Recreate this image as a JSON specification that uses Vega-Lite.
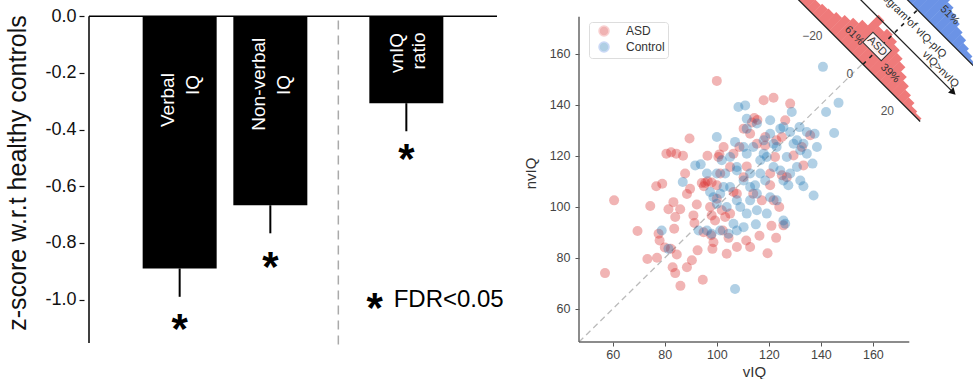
{
  "$schema": "https://vega.github.io/schema/vega-lite/v6.json",
  "padding": {"left": 5, "top": 0, "right": 0, "bottom": 0},
  "background": "white",
  "spacing": 77,
  "bounds": "flush",
  "config": {"font": "Liberation Sans", "view": {"stroke": null}, "axis": {"grid": false}},
  "datasets": {
    "bars": [
      {"m": "Verbal IQ", "pos": 1, "z": -0.89, "lo": -0.99},
      {"m": "Non-verbal IQ", "pos": 2, "z": -0.667, "lo": -0.766},
      {"m": "vnIQ ratio", "pos": 3.5, "z": -0.307, "lo": -0.406}
    ],
    "stars": [
      {"pos": 1, "y": -1.07},
      {"pos": 2, "y": -0.85},
      {"pos": 3.5, "y": -0.47},
      {"pos": 3.15, "y": -0.995}
    ],
    "barlabels": [
      {"txt": "Verbal", "pos": 0.87, "y": -0.296},
      {"txt": "IQ", "pos": 1.15, "y": -0.243},
      {"txt": "Non-verbal", "pos": 1.88, "y": -0.24},
      {"txt": "IQ", "pos": 2.15, "y": -0.243},
      {"txt": "vnIQ", "pos": 3.4, "y": -0.13},
      {"txt": "ratio", "pos": 3.64, "y": -0.123}
    ],
    "fdr": [{"txt": "FDR<0.05", "pos": 3.36, "y": -1.0}],
    "pts": [
      {"g":"ASD","v":57,"nv":74},{"g":"ASD","v":60.5,"nv":102.5},{"g":"ASD","v":69.5,"nv":90.5},{"g":"ASD","v":73.3,"nv":79.5},
      {"g":"ASD","v":74.4,"nv":100.3},{"g":"ASD","v":76.7,"nv":108},{"g":"ASD","v":79,"nv":109},{"g":"ASD","v":77.6,"nv":89.4},
      {"g":"ASD","v":78,"nv":86.8},{"g":"ASD","v":77,"nv":80},{"g":"ASD","v":80,"nv":84},{"g":"ASD","v":80.6,"nv":120.8},
      {"g":"ASD","v":82.4,"nv":121.3},{"g":"ASD","v":84.4,"nv":120.8},{"g":"ASD","v":87,"nv":120},{"g":"ASD","v":81.4,"nv":99},
      {"g":"ASD","v":83.3,"nv":101.8},{"g":"ASD","v":85.9,"nv":99},{"g":"ASD","v":84,"nv":96},{"g":"ASD","v":83.6,"nv":91.4},
      {"g":"ASD","v":87.8,"nv":113},{"g":"ASD","v":88.5,"nv":105},{"g":"ASD","v":89.5,"nv":126.7},{"g":"ASD","v":91,"nv":96.6},
      {"g":"ASD","v":91.4,"nv":93.6},{"g":"ASD","v":83,"nv":76.3},{"g":"ASD","v":84,"nv":74},{"g":"ASD","v":86,"nv":69},
      {"g":"ASD","v":88.5,"nv":76.3},{"g":"ASD","v":90.4,"nv":79},{"g":"ASD","v":84.6,"nv":81.3},{"g":"ASD","v":82.3,"nv":83.5},
      {"g":"ASD","v":92.6,"nv":82.9},{"g":"ASD","v":94.6,"nv":71.4},{"g":"ASD","v":89.7,"nv":107},{"g":"ASD","v":92.3,"nv":100.9},
      {"g":"ASD","v":94.2,"nv":109.3},{"g":"ASD","v":95.5,"nv":109.3},{"g":"ASD","v":96.4,"nv":120},{"g":"ASD","v":100,"nv":149.3},
      {"g":"ASD","v":97.8,"nv":88.8},{"g":"ASD","v":98.7,"nv":86.1},{"g":"ASD","v":98.3,"nv":83.5},{"g":"ASD","v":99.3,"nv":94.6},
      {"g":"ASD","v":100.6,"nv":119.5},{"g":"ASD","v":100,"nv":108.4},{"g":"ASD","v":101.3,"nv":113},{"g":"ASD","v":103.2,"nv":96},
      {"g":"ASD","v":103.8,"nv":81.6},{"g":"ASD","v":104.5,"nv":87.8},{"g":"ASD","v":102.3,"nv":90.7},{"g":"ASD","v":107.7,"nv":84.2},
      {"g":"ASD","v":108.7,"nv":123.4},{"g":"ASD","v":106.4,"nv":105.8},{"g":"ASD","v":110.3,"nv":130.6},{"g":"ASD","v":111.3,"nv":86.8},
      {"g":"ASD","v":112.8,"nv":84.2},{"g":"ASD","v":111.5,"nv":115.8},{"g":"ASD","v":114.4,"nv":134.8},{"g":"ASD","v":115.6,"nv":134},
      {"g":"ASD","v":116.4,"nv":88.6},{"g":"ASD","v":118,"nv":141.7},{"g":"ASD","v":119.5,"nv":81.8},{"g":"ASD","v":121.8,"nv":142.7},
      {"g":"ASD","v":121,"nv":92.5},{"g":"ASD","v":122.8,"nv":87.8},{"g":"ASD","v":120.5,"nv":108.4},{"g":"ASD","v":118.6,"nv":127.3},
      {"g":"ASD","v":122.9,"nv":126},{"g":"ASD","v":124,"nv":99.9},{"g":"ASD","v":125.6,"nv":92.7},{"g":"ASD","v":126.3,"nv":133.9},
      {"g":"ASD","v":128.2,"nv":140.4},{"g":"ASD","v":126.9,"nv":111.6},{"g":"ASD","v":129.5,"nv":120.1},{"g":"ASD","v":122.4,"nv":119.5},
      {"g":"ASD","v":125,"nv":112.3},{"g":"ASD","v":132.7,"nv":123.4},{"g":"ASD","v":133.3,"nv":116.2},{"g":"ASD","v":135.9,"nv":128},
      {"g":"ASD","v":118.6,"nv":124},{"g":"ASD","v":115.4,"nv":124.7},{"g":"ASD","v":112.8,"nv":128.6},{"g":"ASD","v":106.4,"nv":120.8},
      {"g":"ASD","v":105.1,"nv":115.6},{"g":"ASD","v":102.6,"nv":123.4},{"g":"ASD","v":97.4,"nv":99.9},{"g":"ASD","v":98,"nv":96.6},
      {"g":"ASD","v":94.9,"nv":90},{"g":"ASD","v":107.7,"nv":105.1},{"g":"ASD","v":110.3,"nv":111.6},{"g":"ASD","v":114,"nv":105.1},
      {"g":"ASD","v":117.3,"nv":102.5},{"g":"ASD","v":121.8,"nv":102.5},{"g":"ASD","v":120.5,"nv":113},{"g":"ASD","v":125,"nv":127.3},
      {"g":"ASD","v":105.1,"nv":97.3},{"g":"ASD","v":101.9,"nv":98.6},{"g":"ASD","v":100,"nv":103.1},{"g":"ASD","v":95,"nv":108},
      {"g":"ASD","v":96.5,"nv":110},{"g":"ASD","v":98,"nv":109.5},{"g":"ASD","v":113.5,"nv":133},{"g":"ASD","v":101,"nv":120.5},
      {"g":"Control","v":140.8,"nv":154.8},{"g":"Control","v":146.8,"nv":140.7},{"g":"Control","v":142,"nv":137.1},{"g":"Control","v":145.1,"nv":128.9},
      {"g":"Control","v":137.2,"nv":104.4},{"g":"Control","v":136.8,"nv":116.9},{"g":"Control","v":133.3,"nv":108},{"g":"Control","v":138.5,"nv":123.4},
      {"g":"Control","v":137.6,"nv":128.6},{"g":"Control","v":134.6,"nv":129.3},{"g":"Control","v":131.8,"nv":131.2},{"g":"Control","v":128.8,"nv":137.1},
      {"g":"Control","v":125.6,"nv":131.2},{"g":"Control","v":120.5,"nv":133.9},{"g":"Control","v":108.3,"nv":139.1},{"g":"Control","v":110.9,"nv":139.7},
      {"g":"Control","v":111.5,"nv":134.5},{"g":"Control","v":100,"nv":127.3},{"g":"Control","v":107,"nv":125.4},{"g":"Control","v":91.7,"nv":116.2},
      {"g":"Control","v":93.8,"nv":116.6},{"g":"Control","v":86.9,"nv":109.7},{"g":"Control","v":78.8,"nv":90.7},{"g":"Control","v":81.4,"nv":83.5},
      {"g":"Control","v":93,"nv":90.7},{"g":"Control","v":98,"nv":89.4},{"g":"Control","v":101.3,"nv":90.7},{"g":"Control","v":107,"nv":67.8},
      {"g":"Control","v":107.7,"nv":90.7},{"g":"Control","v":106.4,"nv":93.3},{"g":"Control","v":110.3,"nv":92},{"g":"Control","v":115,"nv":93.1},
      {"g":"Control","v":125.6,"nv":94.6},{"g":"Control","v":126.3,"nv":93.3},{"g":"Control","v":98.7,"nv":103.7},{"g":"Control","v":100,"nv":101.2},
      {"g":"Control","v":101.3,"nv":105.1},{"g":"Control","v":102.6,"nv":107.7},{"g":"Control","v":100,"nv":113},{"g":"Control","v":101.9,"nv":118.2},
      {"g":"Control","v":105.1,"nv":119.5},{"g":"Control","v":107.7,"nv":115.6},{"g":"Control","v":110.3,"nv":123.4},{"g":"Control","v":111.5,"nv":120.8},
      {"g":"Control","v":112.8,"nv":113},{"g":"Control","v":110.3,"nv":110.3},{"g":"Control","v":112.8,"nv":107.7},{"g":"Control","v":114.7,"nv":108.4},
      {"g":"Control","v":115.4,"nv":105.1},{"g":"Control","v":116.7,"nv":118.2},{"g":"Control","v":118,"nv":120.8},{"g":"Control","v":119.2,"nv":119.5},
      {"g":"Control","v":121.8,"nv":115.6},{"g":"Control","v":124.4,"nv":114.2},{"g":"Control","v":125.6,"nv":110.3},{"g":"Control","v":127.5,"nv":108.4},
      {"g":"Control","v":128.2,"nv":113},{"g":"Control","v":129.5,"nv":124.7},{"g":"Control","v":130.8,"nv":126},{"g":"Control","v":132.1,"nv":122.1},
      {"g":"Control","v":121.8,"nv":124.7},{"g":"Control","v":123,"nv":123.4},{"g":"Control","v":120.5,"nv":103.7},{"g":"Control","v":119.2,"nv":97.3},
      {"g":"Control","v":123,"nv":102.5},{"g":"Control","v":107.7,"nv":102.5},{"g":"Control","v":109,"nv":99.9},{"g":"Control","v":111.5,"nv":97.3},
      {"g":"Control","v":115.4,"nv":98.6},{"g":"Control","v":103.8,"nv":99.9},{"g":"Control","v":96.2,"nv":90.7},{"g":"Control","v":104.5,"nv":89.4},
      {"g":"Control","v":107.7,"nv":114.2},{"g":"Control","v":114,"nv":123.4},{"g":"Control","v":118,"nv":126},{"g":"Control","v":120.5,"nv":128.6},
      {"g":"Control","v":124.4,"nv":130.6},{"g":"Control","v":128.2,"nv":129.3},{"g":"Control","v":133.3,"nv":124.7},{"g":"Control","v":134.6,"nv":120.8},
      {"g":"Control","v":130.8,"nv":115.6},{"g":"Control","v":132.1,"nv":110.3},{"g":"Control","v":111.5,"nv":130.6},{"g":"Control","v":115.4,"nv":132.6},
      {"g":"Control","v":112.8,"nv":102.5},{"g":"Control","v":105.1,"nv":107.7},{"g":"Control","v":96.2,"nv":113},{"g":"Control","v":97.4,"nv":105.8},
      {"g":"Control","v":103.2,"nv":113},{"g":"Control","v":116.7,"nv":113},{"g":"Control","v":118.6,"nv":110.3},{"g":"Control","v":126.9,"nv":119.5}
    ],
    "diag": [{"d": 47}, {"d": 156}],
    "hist": [
      {"hg":"ASD","t":-37.5,"n":8},{"hg":"ASD","t":-34.5,"n":9},{"hg":"ASD","t":-31.5,"n":11},{"hg":"ASD","t":-28.5,"n":12},
      {"hg":"ASD","t":-25.5,"n":14},{"hg":"ASD","t":-22.5,"n":15},{"hg":"ASD","t":-19.5,"n":18},{"hg":"ASD","t":-16.5,"n":22},
      {"hg":"ASD","t":-13.5,"n":26},{"hg":"ASD","t":-10.5,"n":31},{"hg":"ASD","t":-7.5,"n":46},{"hg":"ASD","t":-4.5,"n":38},
      {"hg":"ASD","t":-1.5,"n":42},{"hg":"ASD","t":1.5,"n":40},{"hg":"ASD","t":4.5,"n":36},{"hg":"ASD","t":7.5,"n":32},
      {"hg":"ASD","t":10.5,"n":28},{"hg":"ASD","t":13.5,"n":22},{"hg":"ASD","t":16.5,"n":17},{"hg":"ASD","t":19.5,"n":12},
      {"hg":"ASD","t":22.5,"n":9},{"hg":"ASD","t":25.5,"n":5},{"hg":"ASD","t":28.5,"n":3},
      {"hg":"Control","t":-13.5,"n":36},{"hg":"Control","t":-10.5,"n":36},{"hg":"Control","t":-7.5,"n":35},{"hg":"Control","t":-4.5,"n":35},
      {"hg":"Control","t":-1.5,"n":33},{"hg":"Control","t":1.5,"n":32},{"hg":"Control","t":4.5,"n":30},{"hg":"Control","t":7.5,"n":27},
      {"hg":"Control","t":10.5,"n":23},{"hg":"Control","t":13.5,"n":20},{"hg":"Control","t":16.5,"n":16},{"hg":"Control","t":19.5,"n":13},
      {"hg":"Control","t":22.5,"n":9},{"hg":"Control","t":25.5,"n":6},{"hg":"Control","t":28.5,"n":3}
    ],
    "seg": [
      {"k":"line","ta":-45,"ha":0,"tb":30.5,"hb":0},
      {"k":"line","ta":-45,"ha":77,"tb":36,"hb":77},
      {"k":"line","ta":-45,"ha":44,"tb":31,"hb":44},
      {"k":"zero","ta":0,"ha":0,"tb":0,"hb":77}
    ],
    "arrowhead": [{"t": 31.5, "h": 44}],
    "ann": [
      {"txt":"61%","t":-10,"h":14},{"txt":"39%","t":9.6,"h":12.7},{"txt":"ASD","t":-1,"h":22.6},
      {"txt":"51%","t":10,"h":96},{"txt":"Histogram of vIQ-pIQ","t":0,"h":63},{"txt":"vIQ>nvIQ","t":22,"h":51}
    ],
    "hticks": [
      {"txt":"−20","t":-21,"h":-16},{"txt":"0","t":-1,"h":-16},{"txt":"20","t":19,"h":-16}
    ]
  },
  "hconcat": [
    {
      "width": 418,
      "height": 345,
      "layer": [
        {
          "data": {"name": "bars"},
          "mark": {"type": "bar", "width": 74, "color": "black"},
          "encoding": {
            "x": {"field": "pos", "type": "quantitative", "scale": {"domain": [0, 4.5], "nice": false, "zero": false}, "axis": null},
            "y": {"field": "z", "type": "quantitative", "scale": {"domain": [-1.16, 0.057], "nice": false, "zero": false},
              "axis": {"values": [0, -0.2, -0.4, -0.6, -0.8, -1.0], "format": ".1f", "labelExpr": "replace(datum.label, '−', '-')",
                "domain": false, "tickSize": 5, "tickColor": "#111", "tickWidth": 1.2, "labelFontSize": 18, "labelColor": "#111",
                "labelPadding": 3, "title": "z-score w.r.t healthy controls", "titleFontSize": 25, "titleFontWeight": "normal",
                "titleColor": "#111", "titlePadding": 14}},
            "y2": {"datum": 0}
          }
        },
        {
          "data": {"name": "bars"},
          "mark": {"type": "rule", "color": "black", "strokeWidth": 2},
          "encoding": {
            "x": {"field": "pos", "type": "quantitative"},
            "y": {"field": "z", "type": "quantitative"},
            "y2": {"field": "lo"}
          }
        },
        {
          "data": {"values": [{}]},
          "mark": {"type": "rule", "color": "black", "strokeWidth": 1.5},
          "encoding": {"x": {"datum": 0, "type": "quantitative"}, "y": {"datum": 0, "type": "quantitative"}, "y2": {"datum": -1.153}}
        },
        {
          "data": {"values": [{}]},
          "mark": {"type": "rule", "color": "black", "strokeWidth": 1.5},
          "encoding": {"x": {"datum": 0, "type": "quantitative"}, "x2": {"datum": 4.5}, "y": {"datum": 0, "type": "quantitative"}}
        },
        {
          "data": {"values": [{}]},
          "mark": {"type": "rule", "color": "#aaaaaa", "strokeWidth": 1.5, "strokeDash": [9, 6]},
          "encoding": {"x": {"datum": 2.75, "type": "quantitative"}, "y": {"datum": -0.015, "type": "quantitative"}, "y2": {"datum": -1.16}}
        },
        {
          "data": {"name": "barlabels"},
          "mark": {"type": "text", "color": "white", "fontSize": 19, "angle": 270, "align": "center", "baseline": "middle"},
          "encoding": {
            "x": {"field": "pos", "type": "quantitative"},
            "y": {"field": "y", "type": "quantitative"},
            "text": {"field": "txt"}
          }
        },
        {
          "data": {"name": "stars"},
          "mark": {"type": "text", "text": "*", "color": "black", "fontSize": 42, "fontWeight": "bold", "align": "center", "baseline": "alphabetic", "dy": 24},
          "encoding": {
            "x": {"field": "pos", "type": "quantitative"},
            "y": {"field": "y", "type": "quantitative"}
          }
        },
        {
          "data": {"name": "fdr"},
          "mark": {"type": "text", "color": "black", "fontSize": 24, "align": "left", "baseline": "middle"},
          "encoding": {
            "x": {"field": "pos", "type": "quantitative"},
            "y": {"field": "y", "type": "quantitative"},
            "text": {"field": "txt"}
          }
        }
      ]
    },
    {
      "width": 394,
      "height": 342,
      "layer": [
        {
          "data": {"name": "diag"},
          "mark": {"type": "line", "color": "#bbbbbb", "strokeWidth": 1.3, "strokeDash": [6, 4]},
          "encoding": {
            "x": {"field": "d", "type": "quantitative", "scale": {"domain": [47, 198.5], "nice": false, "zero": false},
              "axis": {"values": [60, 80, 100, 120, 140, 160], "domain": false, "tickSize": 4, "tickColor": "#555",
                "labelFontSize": 12.5, "labelColor": "#444", "labelPadding": 2, "title": "vIQ", "titleFontSize": 15,
                "titleFontWeight": "normal", "titleColor": "#333", "titleX": 175, "titlePadding": 4}},
            "y": {"field": "d", "type": "quantitative", "scale": {"domain": [47, 181], "nice": false, "zero": false},
              "axis": {"values": [60, 80, 100, 120, 140, 160], "domain": false, "tickSize": 4, "tickColor": "#555",
                "labelFontSize": 12.5, "labelColor": "#444", "labelPadding": 5, "title": "nvIQ", "titleFontSize": 15,
                "titleFontWeight": "normal", "titleColor": "#333", "titleY": 173, "titlePadding": 11}}
          }
        },
        {
          "data": {"name": "pts"},
          "mark": {"type": "point", "filled": true, "size": 100, "opacity": 0.35, "shape": "circle"},
          "encoding": {
            "x": {"field": "v", "type": "quantitative"},
            "y": {"field": "nv", "type": "quantitative"},
            "color": {"field": "g", "type": "nominal", "scale": {"domain": ["ASD", "Control"], "range": ["#d62728", "#1f77b4"]},
              "legend": {"orient": "none", "legendX": 505, "legendY": 22, "title": null, "symbolType": "circle", "symbolSize": 100,
                "symbolOpacity": 0.35, "labelFontSize": 12, "labelColor": "#333", "fillColor": "white", "strokeColor": "#dddddd",
                "padding": 3, "symbolOffset": 6, "cornerRadius": 3, "rowPadding": 0, "labelOffset": 16}}
          }
        },
        {
          "data": {"values": [{}]},
          "mark": {"type": "rule", "color": "#666666", "strokeWidth": 1.5},
          "encoding": {"x": {"datum": 47, "type": "quantitative"}, "y": {"datum": 47, "type": "quantitative"}, "y2": {"datum": 174.4}}
        },
        {
          "data": {"values": [{}]},
          "mark": {"type": "rule", "color": "#666666", "strokeWidth": 1.5},
          "encoding": {"x": {"datum": 47, "type": "quantitative"}, "x2": {"datum": 174}, "y": {"datum": 47, "type": "quantitative"}}
        },
        {
          "data": {"name": "hist"},
          "transform": [
            {"calculate": "datum.hg == 'ASD' ? 0 : 77", "as": "b"},
            {"calculate": "156.2 + 0.721*datum.t + 0.272*datum.b", "as": "hx"},
            {"calculate": "155.8 - 0.735*datum.t + 0.277*datum.b", "as": "hy"},
            {"calculate": "datum.hx + 0.272*datum.n", "as": "hx2"},
            {"calculate": "datum.hy + 0.277*datum.n", "as": "hy2"}
          ],
          "mark": {"type": "rule", "strokeWidth": 8.3, "strokeCap": "butt", "clip": true},
          "encoding": {
            "x": {"field": "hx", "type": "quantitative"},
            "y": {"field": "hy", "type": "quantitative"},
            "x2": {"field": "hx2"},
            "y2": {"field": "hy2"},
            "stroke": {"field": "hg", "type": "nominal", "scale": {"domain": ["ASD", "Control"], "range": ["#ef7a7a", "#6b93e6"]}, "legend": null}
          }
        },
        {
          "data": {"name": "seg"},
          "transform": [
            {"filter": "datum.k == 'line'"},
            {"calculate": "156.2 + 0.721*datum.ta + 0.272*datum.ha", "as": "xa"},
            {"calculate": "155.8 - 0.735*datum.ta + 0.277*datum.ha", "as": "ya"},
            {"calculate": "156.2 + 0.721*datum.tb + 0.272*datum.hb", "as": "xb"},
            {"calculate": "155.8 - 0.735*datum.tb + 0.277*datum.hb", "as": "yb"}
          ],
          "mark": {"type": "rule", "color": "#222222", "strokeWidth": 1.3, "clip": true},
          "encoding": {
            "x": {"field": "xa", "type": "quantitative"},
            "y": {"field": "ya", "type": "quantitative"},
            "x2": {"field": "xb"},
            "y2": {"field": "yb"}
          }
        },
        {
          "data": {"name": "seg"},
          "transform": [
            {"filter": "datum.k == 'zero'"},
            {"calculate": "156.2 + 0.721*datum.ta + 0.272*datum.ha", "as": "xa"},
            {"calculate": "155.8 - 0.735*datum.ta + 0.277*datum.ha", "as": "ya"},
            {"calculate": "156.2 + 0.721*datum.tb + 0.272*datum.hb", "as": "xb"},
            {"calculate": "155.8 - 0.735*datum.tb + 0.277*datum.hb", "as": "yb"}
          ],
          "mark": {"type": "rule", "color": "#222222", "strokeWidth": 1.6, "strokeDash": [4, 5], "clip": true},
          "encoding": {
            "x": {"field": "xa", "type": "quantitative"},
            "y": {"field": "ya", "type": "quantitative"},
            "x2": {"field": "xb"},
            "y2": {"field": "yb"}
          }
        },
        {
          "data": {"name": "arrowhead"},
          "transform": [
            {"calculate": "156.2 + 0.721*datum.t + 0.272*datum.h", "as": "ax"},
            {"calculate": "155.8 - 0.735*datum.t + 0.277*datum.h", "as": "ay"}
          ],
          "mark": {"type": "point", "shape": "triangle-right", "filled": true, "color": "#111111", "opacity": 1, "size": 60, "angle": 45, "clip": true},
          "encoding": {
            "x": {"field": "ax", "type": "quantitative"},
            "y": {"field": "ay", "type": "quantitative"}
          }
        },
        {
          "data": {"name": "ann"},
          "transform": [
            {"filter": "datum.txt == 'ASD'"},
            {"calculate": "156.2 + 0.721*datum.t + 0.272*datum.h", "as": "ax"},
            {"calculate": "155.8 - 0.735*datum.t + 0.277*datum.h", "as": "ay"}
          ],
          "mark": {"type": "point", "shape": "M-1,-0.55L1,-0.55L1,0.55L-1,0.55Z", "filled": false, "fill": "white", "fillOpacity": 0.9, "stroke": "#333333", "strokeWidth": 1, "opacity": 1, "size": 676, "angle": 45, "clip": true},
          "encoding": {
            "x": {"field": "ax", "type": "quantitative"},
            "y": {"field": "ay", "type": "quantitative"}
          }
        },
        {
          "data": {"name": "ann"},
          "transform": [
            {"calculate": "156.2 + 0.721*datum.t + 0.272*datum.h", "as": "ax"},
            {"calculate": "155.8 - 0.735*datum.t + 0.277*datum.h", "as": "ay"}
          ],
          "mark": {"type": "text", "color": "#333333", "fontSize": 11, "angle": 45, "align": "center", "baseline": "middle", "clip": true},
          "encoding": {
            "x": {"field": "ax", "type": "quantitative"},
            "y": {"field": "ay", "type": "quantitative"},
            "text": {"field": "txt"}
          }
        },
        {
          "data": {"name": "hticks"},
          "transform": [
            {"calculate": "156.2 + 0.721*datum.t + 0.272*datum.h", "as": "ax"},
            {"calculate": "155.8 - 0.735*datum.t + 0.277*datum.h", "as": "ay"}
          ],
          "mark": {"type": "text", "color": "#555555", "fontSize": 12, "align": "center", "baseline": "middle", "clip": true},
          "encoding": {
            "x": {"field": "ax", "type": "quantitative"},
            "y": {"field": "ay", "type": "quantitative"},
            "text": {"field": "txt"}
          }
        }
      ]
    }
  ]
}
